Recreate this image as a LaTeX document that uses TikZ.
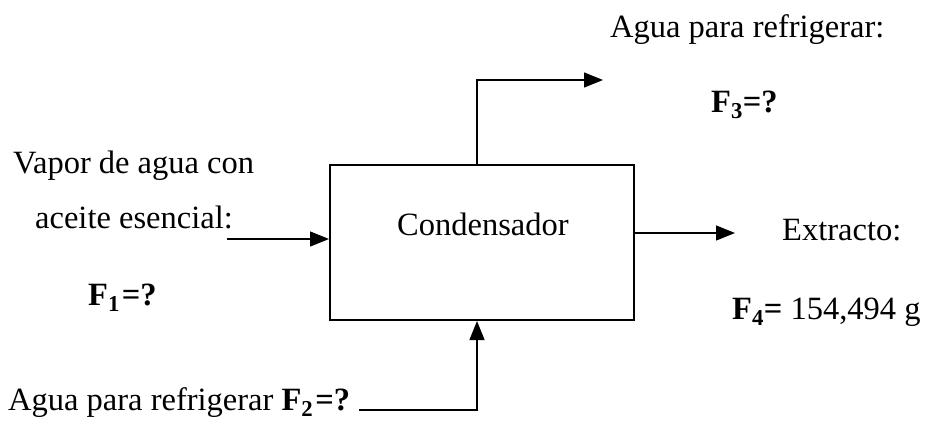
\documentclass[tikz,border=0pt]{standalone}
\usepackage{fontspec}
\setmainfont{Liberation Serif}
\usetikzlibrary{arrows.meta}
\begin{document}
\begin{tikzpicture}[x=1pt,y=-1pt,
  lbl/.style={anchor=base west,inner sep=0pt,font=\fontsize{32.5}{38}\selectfont},
  flow/.style={line width=1.3pt,-{Triangle[length=19pt,width=15pt]}}]
\useasboundingbox (0,0) rectangle (934,423);
\node[draw,line width=2pt,minimum width=304pt,minimum height=155pt,inner sep=0pt] (cond) at (482,242.5) {};
\node[lbl] (tcond) at (397,235) {Condensador};
\node[lbl] (t3a) at (610,37) {Agua para refrigerar:};
\node[lbl] (t3b) at (711,112) {\textbf{F}\textsubscript{\textbf{3}}\textbf{=?}};
\node[lbl] (t1a) at (13,173) {Vapor de agua con};
\node[lbl] (t1b) at (35,228) {aceite esencial:};
\node[lbl] (t1c) at (88,305) {\textbf{F}\textsubscript{\textbf{1}}\kern2pt\textbf{=?}};
\node[lbl] (t4a) at (782,240) {Extracto:};
\node[lbl] (t4b) at (732,319) {\textbf{F}\textsubscript{\textbf{4}}\textbf{=} 154,494 g};
\node[lbl] (t2) at (8,410) {Agua para refrigerar \textbf{F}\textsubscript{\textbf{2}}\kern2pt\textbf{=?}};
\coordinate (in1) at (227,239);
\coordinate (top1) at (603,80);
\coordinate (r1) at (735,233);
\coordinate (b1) at (359,410);
\draw[flow] (in1) -- (in1 -| cond.west);
\draw[flow] ([xshift=-5pt]cond.north) |- (top1);
\draw[flow] (r1 -| cond.east) -- (r1);
\draw[flow] (b1) -| ([xshift=-5pt]cond.south);
\end{tikzpicture}
\end{document}
